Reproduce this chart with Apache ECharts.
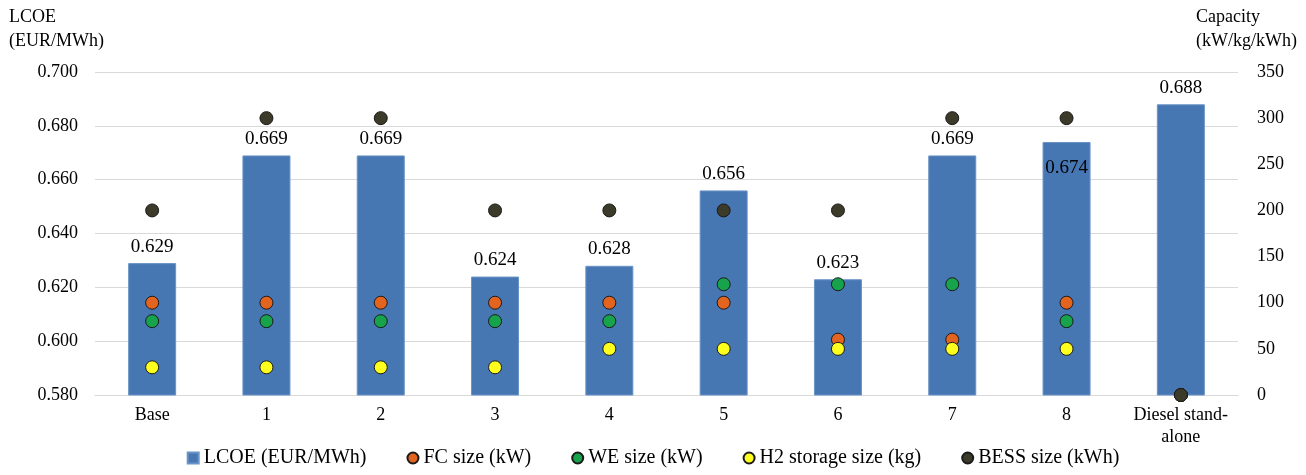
<!DOCTYPE html>
<html>
<head>
<meta charset="utf-8">
<script src="https://cdn.jsdelivr.net/npm/echarts@6/dist/echarts.min.js"></script>
<style>html,body{margin:0;padding:0;background:#fff;}#c{width:1306px;height:475px;}</style>
</head>
<body>
<div id="c"></div>
<script>
const categories = ['Base', '1', '2', '3', '4', '5', '6', '7', '8', 'Diesel stand-\nalone'];
const lcoe = [0.629, 0.669, 0.669, 0.624, 0.628, 0.656, 0.623, 0.669, 0.674, 0.688];
const fcSize = [100, 100, 100, 100, 100, 100, 60, 60, 100, 0];
const weSize = [80, 80, 80, 80, 80, 120, 120, 120, 80, 0];
const h2Size = [30, 30, 30, 30, 50, 50, 50, 50, 50, 0];
const bessSize = [200, 300, 300, 200, 200, 200, 200, 300, 300, 0];
const leftTicks = { min: 0.58, max: 0.70, interval: 0.02 };
const rightTicks = { min: 0, max: 350, interval: 50 };

const font = 'Liberation Serif';
const chart = echarts.init(document.getElementById('c'));
const mkScatter = (name, data, color) => ({
  name: name, type: 'scatter', yAxisIndex: 1, data: data,
  symbol: 'circle', symbolSize: 13,
  itemStyle: { color: color, borderColor: '#1a1a1a', borderWidth: 1, opacity: 1 },
  emphasis: { disabled: true }, z: 3
});
chart.setOption({
  animation: false,
  textStyle: { fontFamily: font },
  grid: { left: 95, right: 68, top: 72, bottom: 80 },
  graphic: [
    { type: 'text', left: 9, top: 5, style: { text: 'LCOE\n(EUR/MWh)', font: '18px "Liberation Serif"', fill: '#000', lineHeight: 24 } },
    { type: 'text', right: 9, top: 5, style: { text: 'Capacity\n(kW/kg/kWh)', font: '18px "Liberation Serif"', fill: '#000', lineHeight: 24, align: 'right' } }
  ],
  legend: {
    bottom: 2, left: 'center', itemGap: 40, itemWidth: 11, itemHeight: 11,
    textStyle: { fontFamily: font, fontSize: 20, color: '#000' },
    data: [
      { name: 'LCOE (EUR/MWh)', icon: 'rect' },
      { name: 'FC size (kW)', icon: 'circle' },
      { name: 'WE size (kW)', icon: 'circle' },
      { name: 'H2 storage size (kg)', icon: 'circle' },
      { name: 'BESS size (kWh)', icon: 'circle' }
    ]
  },
  xAxis: {
    type: 'category', data: categories,
    axisLine: { lineStyle: { color: '#d9d9d9' } }, axisTick: { show: false },
    axisLabel: { interval: 0, fontFamily: font, fontSize: 18, color: '#000', margin: 9, lineHeight: 22 }
  },
  yAxis: [
    {
      type: 'value', min: leftTicks.min, max: leftTicks.max, interval: leftTicks.interval,
      axisLine: { show: false }, axisTick: { show: false },
      splitLine: { lineStyle: { color: '#d9d9d9', width: 1 } },
      axisLabel: { fontFamily: font, fontSize: 18, color: '#000', margin: 17, formatter: v => v.toFixed(3) }
    },
    {
      type: 'value', min: rightTicks.min, max: rightTicks.max, interval: rightTicks.interval,
      axisLine: { show: false }, axisTick: { show: false }, splitLine: { show: false },
      axisLabel: { fontFamily: font, fontSize: 18, color: '#000', margin: 19 }
    }
  ],
  series: [
    {
      name: 'LCOE (EUR/MWh)', type: 'bar', barWidth: '42%',
      data: lcoe.map((v, i) => i === 8 ? { value: v, label: { position: 'insideTop', distance: 17 } } : v),
      itemStyle: { color: '#4777b3', borderColor: '#6a93c7', borderWidth: 1 },
      label: { show: true, position: 'top', distance: 7, fontFamily: font, fontSize: 19, color: '#000', formatter: p => p.value.toFixed(3) },
      emphasis: { disabled: true },
      z: 2
    },
    mkScatter('FC size (kW)', fcSize, '#e2641f'),
    mkScatter('WE size (kW)', weSize, '#16a34c'),
    mkScatter('H2 storage size (kg)', h2Size, '#ffff1e'),
    mkScatter('BESS size (kWh)', bessSize, '#3c3a28')
  ]
});
</script>
</body>
</html>
